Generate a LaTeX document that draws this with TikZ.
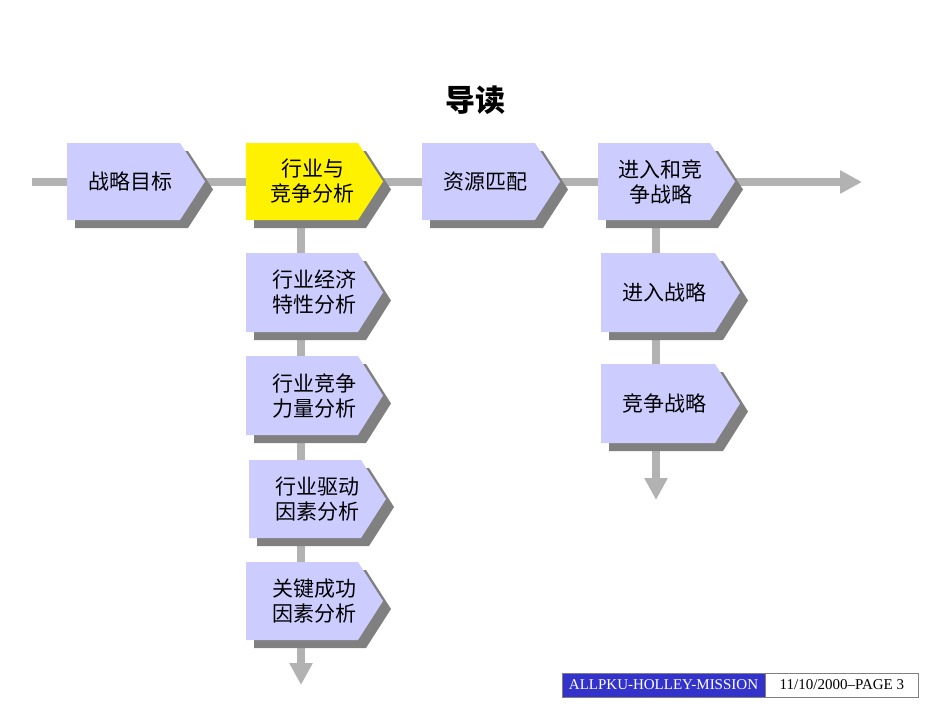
\documentclass[tikz,border=0pt]{standalone}
\usepackage{fontspec}
\setmainfont{Liberation Serif}
\newfontfamily\cjk{Noto Sans CJK SC}
\usetikzlibrary{arrows.meta}
\definecolor{boxblue}{RGB}{204,204,255}
\definecolor{linegray}{RGB}{178,178,178}
\definecolor{shadowgray}{RGB}{128,128,128}
\definecolor{footblue}{RGB}{51,51,204}
\tikzset{conn/.style={draw=linegray,line width=8pt,-{Triangle[length=22pt,width=22pt]}},
  lbl/.style={font=\cjk\fontsize{21}{25}\selectfont,align=center,inner sep=0pt}}
\newcommand{\chev}[6]{% name, x0,y0,x1,y1, fill
  \fill[shadowgray] (#2+8,#3+8) -- (#4-25+8,#3+8) -- (#4+8,{(#3+#5)/2+8}) -- (#4-25+8,#5+8) -- (#2+8,#5+8) -- cycle;
  \fill[#6] (#2,#3) -- (#4-25,#3) -- (#4,{(#3+#5)/2}) -- (#4-25,#5) -- (#2,#5) -- cycle;
  \coordinate (#1) at ({(#2+#4)/2-6},{(#3+#5)/2});
  \coordinate (#1b) at ({(#2+#4)/2},#5);
}
\begin{document}
\begin{tikzpicture}[x=1pt,y=-1pt]
\useasboundingbox (0,0) rectangle (950,713);
\fill[white] (0,0) rectangle (950,713);
\node[font=\cjk\bfseries\fontsize{30}{34}\selectfont] (title) at (475,100) {导读};
\coordinate (hs) at (32,182); \coordinate (he) at (862,182);
\draw[conn] (hs) -- (he);
\coordinate (v1s) at (301,215); \coordinate (v1e) at (301,685);
\draw[conn] (v1s) -- (v1e);
\coordinate (v2s) at (656,215); \coordinate (v2e) at (656,500);
\draw[conn] (v2s) -- (v2e);
\chev{a}{67}{143}{205}{220}{boxblue}
\chev{b}{246}{143}{383}{220}{yellow}
\chev{c}{422}{143}{560}{220}{boxblue}
\chev{d}{598}{143}{735}{220}{boxblue}
\chev{b1}{246}{253}{383}{332}{boxblue}
\chev{b2}{246}{356}{383}{435}{boxblue}
\chev{b3}{249}{460}{386}{538}{boxblue}
\chev{b4}{246}{562}{383}{640}{boxblue}
\chev{d1}{601}{253}{740}{332}{boxblue}
\chev{d2}{601}{364}{740}{443}{boxblue}
\node[lbl] (ta) at (a) {战略目标};
\node[lbl] (tb) at ([xshift=4pt]b) {行业与\\竞争分析};
\node[lbl] (tc) at (c) {资源匹配};
\node[lbl] (td) at (d) {进入和竞\\争战略};
\node[lbl] (tb1) at ([xshift=6pt]b1) {行业经济\\特性分析};
\node[lbl] (tb2) at ([xshift=6pt]b2) {行业竞争\\力量分析};
\node[lbl] (tb3) at ([xshift=6pt]b3) {行业驱动\\因素分析};
\node[lbl] (tb4) at ([xshift=6pt]b4) {关键成功\\因素分析};
\node[lbl] (td1) at (d1) {进入战略};
\node[lbl] (td2) at (d2) {竞争战略};
\node[draw=gray,fill=footblue,text=white,minimum width=203pt,minimum height=24pt,inner sep=0pt,font=\fontsize{15}{17}\selectfont] (f1) at (663.5,685) {ALLPKU-HOLLEY-MISSION};
\node[draw=gray,fill=white,minimum width=153pt,minimum height=24pt,inner sep=0pt,font=\fontsize{15}{17}\selectfont,anchor=west] (f2) at (f1.east) {11/10/2000--PAGE 3};
\end{tikzpicture}
\end{document}
